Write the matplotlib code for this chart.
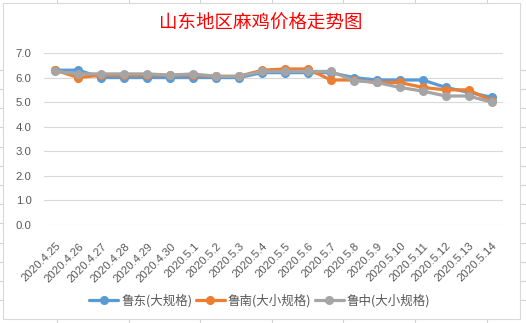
import matplotlib
matplotlib.use("Agg")
import matplotlib.pyplot as plt
from matplotlib.lines import Line2D
from matplotlib.patches import Rectangle

plt.rcParams['font.family'] = ['Noto Sans CJK SC', 'DejaVu Sans']

dates = ["2020.4.25", "2020.4.26", "2020.4.27", "2020.4.28", "2020.4.29", "2020.4.30",
         "2020.5.1", "2020.5.2", "2020.5.3", "2020.5.4", "2020.5.5", "2020.5.6",
         "2020.5.7", "2020.5.8", "2020.5.9", "2020.5.10", "2020.5.11", "2020.5.12",
         "2020.5.13", "2020.5.14"]
ludong = [6.3, 6.3, 6.0, 6.0, 6.0, 6.0, 6.0, 6.0, 6.0, 6.2, 6.2, 6.2,
          6.2, 6.0, 5.9, 5.9, 5.9, 5.6, 5.4, 5.2]
lunan = [6.3, 6.0, 6.1, 6.1, 6.1, 6.1, 6.1, 6.05, 6.05, 6.3, 6.35, 6.35,
         5.9, 5.9, 5.8, 5.8, 5.6, 5.5, 5.5, 5.05]
luzhong = [6.25, 6.15, 6.15, 6.15, 6.15, 6.1, 6.15, 6.05, 6.05, 6.25, 6.25, 6.25,
           6.25, 5.88, 5.8, 5.6, 5.45, 5.25, 5.25, 5.0]
series_names = ["鲁东(大规格)", "鲁南(大小规格)", "鲁中(大小规格)"]
colors = ["#5B9BD5", "#ED7D31", "#A5A5A5"]
title = "山东地区麻鸡价格走势图"

W, H = 526, 323
fig = plt.figure(figsize=(W / 100, H / 100), dpi=100)
fig.patch.set_facecolor("white")

# spreadsheet grid behind the chart
gc = "#d4d4d4"
for xv in [57, 129, 200, 272, 343, 415, 487]:
    fig.add_artist(Line2D([xv / W, xv / W], [0, 1], color=gc, lw=0.8, zorder=0))
for yv in [70, 89, 108, 127, 147, 166, 185, 204, 223, 243, 262, 281, 300]:
    fig.add_artist(Line2D([0, 1], [1 - yv / H, 1 - yv / H], color=gc, lw=0.8, zorder=0))
# chart area
fig.add_artist(Rectangle((3 / W, 1 - 319 / H), (520 - 3) / W, (319 - 3) / H,
                         transform=fig.transFigure, facecolor="white",
                         edgecolor="#d9d9d9", lw=0.8, zorder=0.5))

ax = fig.add_axes([44 / W, 1 - 225 / H, (503 - 44) / W, (225 - 53) / H])
ax.set_facecolor("none")
ax.set_zorder(2)
x = list(range(len(dates)))
for vals, c, name in zip([ludong, lunan, luzhong], colors, series_names):
    ax.plot(x, vals, color=c, lw=2.3, marker="o", markersize=5.5, label=name,
            solid_capstyle="round", zorder=3)

num_font = ["Liberation Sans", "DejaVu Sans"]
ax.set_xlim(-0.5, len(dates) - 0.5)
ax.set_ylim(0, 7)
ax.set_yticks([0, 1, 2, 3, 4, 5, 6, 7])
ax.set_yticklabels([f"{v:.1f}" for v in range(8)], fontsize=8.2, color="#595959",
                   family=num_font)
ax.yaxis.grid(True, color="#d9d9d9", lw=0.8)
ax.set_axisbelow(True)
for s in ax.spines.values():
    s.set_visible(False)
ax.tick_params(axis="both", length=0)
ax.tick_params(axis="y", pad=9)
ax.set_xticks(x)
ax.set_xticklabels(dates, rotation=45, ha="right", va="center", rotation_mode="anchor",
                   fontsize=8.2, color="#595959", family=num_font)
ax.tick_params(axis="x", pad=14)
for lbl in ax.get_xticklabels():
    lbl.set_x(lbl.get_position()[0])
import matplotlib.transforms as mtransforms
offset = mtransforms.ScaledTranslation(4 / 100, 0, fig.dpi_scale_trans)
for lbl in ax.get_xticklabels():
    lbl.set_transform(lbl.get_transform() + offset)

fig.text(0.495, 1 - 23.5 / H, title, color="#FF0000", fontsize=13.3,
         ha="center", va="center")

leg = fig.legend(loc="center", bbox_to_anchor=(0.494, 1 - 301 / H), ncol=3,
                 frameon=False, fontsize=9, handlelength=2.3, columnspacing=0.3,
                 handletextpad=0.25)
for t in leg.get_texts():
    t.set_color("#595959")

fig.savefig("out.png", dpi=100)
